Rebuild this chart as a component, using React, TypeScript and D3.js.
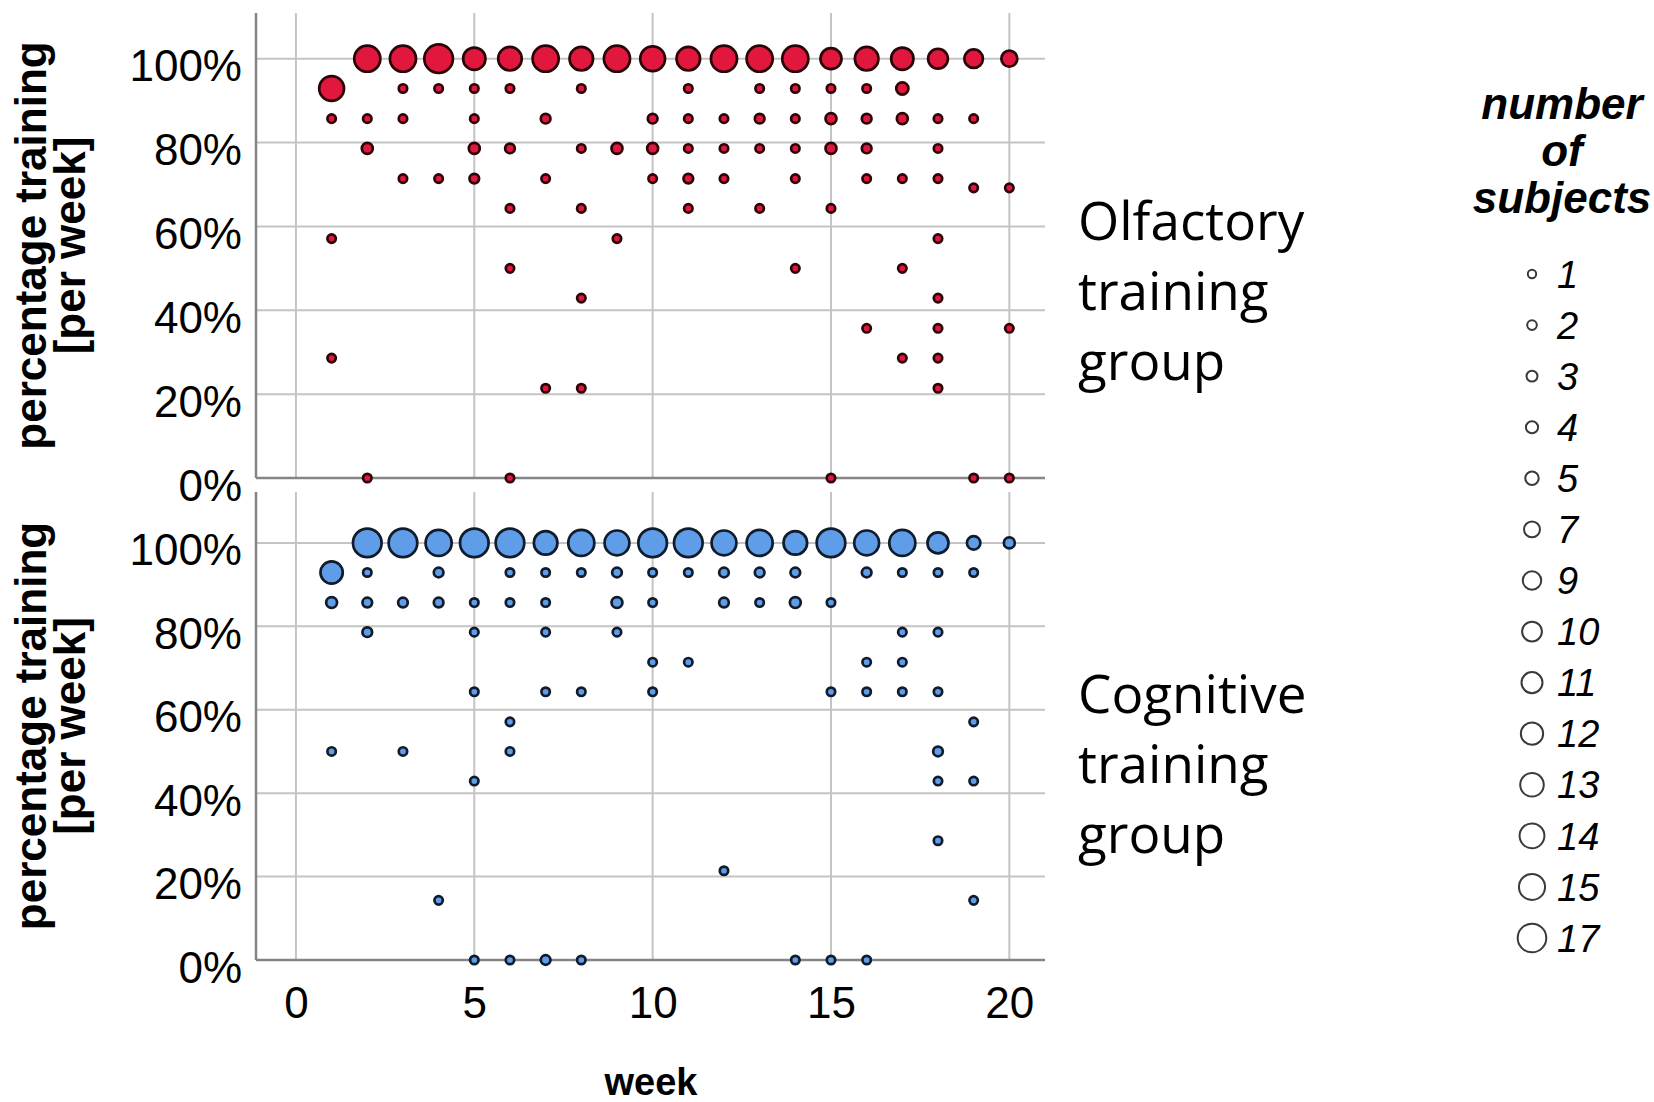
import React, { useEffect, useRef } from 'react';
import * as d3 from 'd3';

// [week, percentage training per week, number of subjects]
const olfactoryPoints = [
  [1, 92.9, 14], [1, 85.7, 1], [1, 57.1, 1], [1, 28.6, 1],
  [2, 100, 15], [2, 85.7, 1], [2, 78.6, 3], [2, 0, 1],
  [3, 100, 15], [3, 92.9, 1], [3, 85.7, 1], [3, 71.4, 1],
  [4, 100, 17], [4, 92.9, 1], [4, 71.4, 1],
  [5, 100, 12], [5, 92.9, 1], [5, 85.7, 1], [5, 78.6, 3], [5, 71.4, 2],
  [6, 100, 13], [6, 92.9, 1], [6, 78.6, 2], [6, 64.3, 1], [6, 50, 1], [6, 0, 1],
  [7, 100, 15], [7, 85.7, 2], [7, 71.4, 1], [7, 21.4, 1],
  [8, 100, 13], [8, 92.9, 1], [8, 78.6, 1], [8, 64.3, 1], [8, 42.9, 1], [8, 21.4, 1],
  [9, 100, 15], [9, 78.6, 3], [9, 57.1, 1],
  [10, 100, 14], [10, 85.7, 2], [10, 78.6, 3], [10, 71.4, 1],
  [11, 100, 13], [11, 92.9, 1], [11, 85.7, 1], [11, 78.6, 1], [11, 71.4, 2], [11, 64.3, 1],
  [12, 100, 15], [12, 85.7, 1], [12, 78.6, 1], [12, 71.4, 1],
  [13, 100, 15], [13, 92.9, 1], [13, 85.7, 2], [13, 78.6, 1], [13, 64.3, 1],
  [14, 100, 15], [14, 92.9, 1], [14, 85.7, 1], [14, 78.6, 1], [14, 71.4, 1], [14, 50, 1],
  [15, 100, 11], [15, 92.9, 1], [15, 85.7, 3], [15, 78.6, 3], [15, 64.3, 1], [15, 0, 1],
  [16, 100, 13], [16, 92.9, 1], [16, 85.7, 2], [16, 78.6, 2], [16, 71.4, 1], [16, 35.7, 1],
  [17, 100, 12], [17, 92.9, 4], [17, 85.7, 3], [17, 71.4, 1], [17, 50, 1], [17, 28.6, 1],
  [18, 100, 10], [18, 85.7, 1], [18, 78.6, 1], [18, 71.4, 1], [18, 57.1, 1], [18, 42.9, 1],
  [18, 35.7, 1], [18, 28.6, 1], [18, 21.4, 1],
  [19, 100, 9], [19, 85.7, 1], [19, 69.2, 1], [19, 0, 1],
  [20, 100, 7], [20, 69.2, 1], [20, 35.7, 1], [20, 0, 1],
];

const cognitivePoints = [
  [1, 92.9, 12], [1, 85.7, 3], [1, 50, 1],
  [2, 100, 17], [2, 92.9, 1], [2, 85.7, 2], [2, 78.6, 2],
  [3, 100, 17], [3, 85.7, 2], [3, 50, 1],
  [4, 100, 15], [4, 92.9, 2], [4, 85.7, 2], [4, 14.3, 1],
  [5, 100, 17], [5, 85.7, 1], [5, 78.6, 1], [5, 64.3, 1], [5, 42.9, 1], [5, 0, 1],
  [6, 100, 17], [6, 92.9, 1], [6, 85.7, 1], [6, 57.1, 1], [6, 50, 1], [6, 0, 1],
  [7, 100, 13], [7, 92.9, 1], [7, 85.7, 1], [7, 78.6, 1], [7, 64.3, 1], [7, 0, 2],
  [8, 100, 15], [8, 92.9, 1], [8, 64.3, 1], [8, 0, 1],
  [9, 100, 14], [9, 92.9, 2], [9, 85.7, 3], [9, 78.6, 1],
  [10, 100, 17], [10, 92.9, 1], [10, 85.7, 1], [10, 71.4, 1], [10, 64.3, 1],
  [11, 100, 17], [11, 92.9, 1], [11, 71.4, 1],
  [12, 100, 14], [12, 92.9, 2], [12, 85.7, 2], [12, 21.4, 1],
  [13, 100, 15], [13, 92.9, 2], [13, 85.7, 1],
  [14, 100, 13], [14, 92.9, 2], [14, 85.7, 3], [14, 0, 1],
  [15, 100, 17], [15, 85.7, 1], [15, 64.3, 1], [15, 0, 1],
  [16, 100, 14], [16, 92.9, 2], [16, 71.4, 1], [16, 64.3, 1], [16, 0, 1],
  [17, 100, 15], [17, 92.9, 1], [17, 78.6, 1], [17, 71.4, 1], [17, 64.3, 1],
  [18, 100, 11], [18, 92.9, 1], [18, 78.6, 1], [18, 64.3, 1], [18, 50, 2], [18, 42.9, 1], [18, 28.6, 1],
  [19, 100, 5], [19, 92.9, 1], [19, 57.1, 1], [19, 42.9, 1], [19, 14.3, 1],
  [20, 100, 3],
];

const weekTicks = [0, 5, 10, 15, 20];
const percentTicks = [0, 20, 40, 60, 80, 100];
const legendSizes = [1, 2, 3, 4, 5, 7, 9, 10, 11, 12, 13, 14, 15, 17];
const olfactoryLabel = ['Olfactory', 'training', 'group'];
const cognitiveLabel = ['Cognitive', 'training', 'group'];
const legendTitle = ['number', 'of', 'subjects'];
const yTitle = ['percentage training', '[per week]'];

const W = 1654;
const H = 1102;
const sans = "'Liberation Sans', Arial, sans-serif";

const App = () => {
  const ref = useRef(null);

  useEffect(() => {
    draw();
  }, []);

  const draw = () => {
    const svg = d3.select(ref.current);
    svg.selectAll('*').remove();

    const x = d3.scaleLinear().domain([-1.12, 21]).range([256, 1045]);
    const r = d3.scaleLinear().domain([1, 17]).range([4.2, 14.3]);

    const panels = [
      { points: olfactoryPoints, label: olfactoryLabel, fill: '#e2173e', stroke: '#2a0508', top: 13, bottom: 478, max: 110.9, labelY: 240 },
      { points: cognitivePoints, label: cognitiveLabel, fill: '#5f9de8', stroke: '#101b2b', top: 492, bottom: 960, max: 112.2, labelY: 713 },
    ];

    panels.forEach((p, i) => {
      const y = d3.scaleLinear().domain([0, p.max]).range([p.bottom, p.top]);
      const g = svg.append('g');

      // grid
      g.append('g').selectAll('line')
        .data(percentTicks.filter(t => t > 0))
        .join('line')
        .attr('x1', x.range()[0]).attr('x2', x.range()[1])
        .attr('y1', d => y(d)).attr('y2', d => y(d))
        .attr('stroke', '#c4c4c4').attr('stroke-width', 2);
      g.append('g').selectAll('line')
        .data(weekTicks)
        .join('line')
        .attr('x1', d => x(d)).attr('x2', d => x(d))
        .attr('y1', p.top).attr('y2', p.bottom)
        .attr('stroke', '#c4c4c4').attr('stroke-width', 2);

      // axis lines
      g.append('line')
        .attr('x1', x.range()[0]).attr('x2', x.range()[0])
        .attr('y1', p.top).attr('y2', p.bottom)
        .attr('stroke', '#858585').attr('stroke-width', 2.5);
      g.append('line')
        .attr('x1', x.range()[0]).attr('x2', x.range()[1])
        .attr('y1', p.bottom).attr('y2', p.bottom)
        .attr('stroke', '#858585').attr('stroke-width', 2.5);

      // y ticks
      const yAxis = d3.axisLeft(y)
        .tickValues(percentTicks)
        .tickFormat(d => `${d}%`)
        .tickSize(0)
        .tickPadding(14);
      const ya = g.append('g')
        .attr('transform', `translate(${x.range()[0]},0)`)
        .call(yAxis);
      ya.select('.domain').remove();
      ya.selectAll('text')
        .attr('dy', '0.5em')
        .attr('fill', '#000')
        .style('font-family', sans)
        .style('font-size', '44px');

      // y title
      const cy = (p.top + p.bottom) / 2;
      yTitle.forEach((t, j) => {
        g.append('text')
          .attr('transform', `translate(${j === 0 ? 46 : 85},${cy}) rotate(-90)`)
          .attr('text-anchor', 'middle')
          .style('font-family', sans)
          .style('font-weight', 'bold')
          .style('font-size', '44px')
          .text(t);
      });

      // bubbles
      const pts = [...p.points].sort((a, b) => b[2] - a[2]);
      g.append('g').selectAll('circle')
        .data(pts)
        .join('circle')
        .attr('cx', d => x(d[0]))
        .attr('cy', d => y(d[1]))
        .attr('r', d => r(d[2]))
        .attr('fill', p.fill)
        .attr('stroke', p.stroke)
        .attr('stroke-width', 2.7);

      // group label
      p.label.forEach((t, j) => {
        g.append('text')
          .attr('x', 1078)
          .attr('y', p.labelY + j * 70)
          .style('font-family', "'Segoe UI', 'Open Sans', sans-serif")
          .style('font-size', '53px')
          .text(t);
      });

      if (i === panels.length - 1) {
        const xAxis = d3.axisBottom(x)
          .tickValues(weekTicks)
          .tickSize(0)
          .tickPadding(27);
        const xa = g.append('g')
          .attr('transform', `translate(0,${p.bottom})`)
          .call(xAxis);
        xa.select('.domain').remove();
        xa.selectAll('text')
          .attr('fill', '#000')
          .style('font-family', sans)
          .style('font-size', '44px');
      }
    });

    svg.append('text')
      .attr('x', 651)
      .attr('y', 1095)
      .attr('text-anchor', 'middle')
      .style('font-family', sans)
      .style('font-weight', 'bold')
      .style('font-size', '38px')
      .text('week');

    // legend
    const lg = svg.append('g');
    legendTitle.forEach((t, j) => {
      lg.append('text')
        .attr('x', 1562)
        .attr('y', 119 + j * 47)
        .attr('text-anchor', 'middle')
        .style('font-family', sans)
        .style('font-weight', 'bold')
        .style('font-style', 'italic')
        .style('font-size', '44px')
        .text(t);
    });
    const ly = d3.scalePoint().domain(legendSizes.map(String)).range([274, 938]);
    legendSizes.forEach(s => {
      lg.append('circle')
        .attr('cx', 1532)
        .attr('cy', ly(String(s)))
        .attr('r', r(s))
        .attr('fill', 'none')
        .attr('stroke', '#3a3a3a')
        .attr('stroke-width', 2);
      lg.append('text')
        .attr('x', 1557)
        .attr('y', ly(String(s)))
        .attr('dy', '0.36em')
        .style('font-family', sans)
        .style('font-style', 'italic')
        .style('font-size', '38px')
        .text(s);
    });
  };

  return (
    <>
      <style>{'body{margin:0}'}</style>
      <svg ref={ref} width={W} height={H} style={{ display: 'block', background: '#fff' }}></svg>
    </>
  );
};

export default App;
